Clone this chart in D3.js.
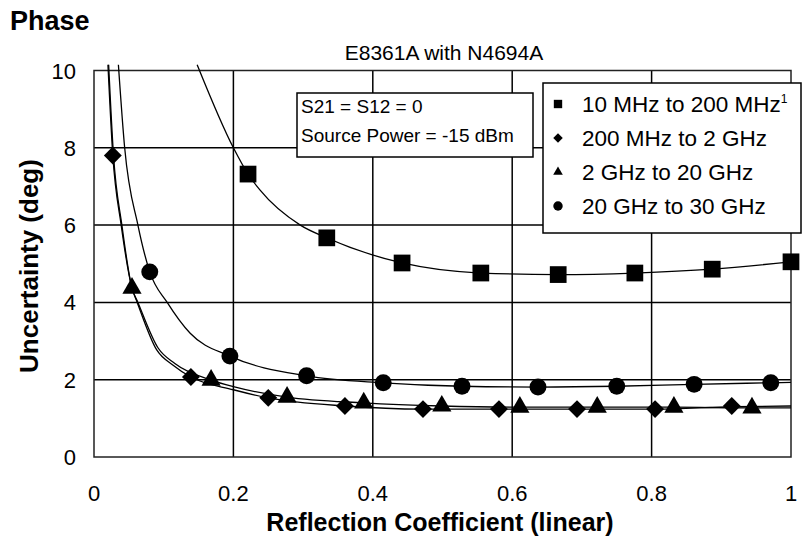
<!DOCTYPE html>
<html>
<head>
<meta charset="utf-8">
<script src="https://cdn.jsdelivr.net/npm/d3@7"></script>
<style>
  html, body { margin: 0; padding: 0; background: #fff; }
  svg { display: block; font-family: Arial, "Liberation Sans", sans-serif; }
</style>
</head>
<body>
<svg id="chart" width="806" height="549"></svg>
<script>
// ---------------- DATA ----------------
const seriesNames = ["10 MHz to 200 MHz", "200 MHz to 2 GHz", "2 GHz to 20 GHz", "20 GHz to 30 GHz"];
const xTicks = [0, 0.2, 0.4, 0.6, 0.8, 1];
const xTickLabels = ["0", "0.2", "0.4", "0.6", "0.8", "1"];
const yTicks = [0, 2, 4, 6, 8, 10];
const yTickLabels = ["0", "2", "4", "6", "8", "10"];

// marker points [reflection coefficient, uncertainty deg]
const squarePts  = [[0.221,7.32],[0.334,5.67],[0.442,5.02],[0.555,4.76],[0.666,4.72],[0.776,4.76],[0.887,4.86],[1.0,5.05]];
const diamondPts = [[0.027,7.8],[0.139,2.07],[0.250,1.53],[0.360,1.32],[0.472,1.24],[0.581,1.24],[0.693,1.24],[0.805,1.24],[0.915,1.32]];
const trianglePts= [[0.0545,4.37],[0.168,1.99],[0.277,1.55],[0.387,1.40],[0.499,1.32],[0.611,1.29],[0.722,1.29],[0.832,1.29],[0.944,1.27]];
const circlePts  = [[0.080,4.79],[0.195,2.61],[0.305,2.10],[0.415,1.92],[0.528,1.83],[0.637,1.81],[0.750,1.83],[0.861,1.88],[0.971,1.92]];

// fitted curve traces
const squareCurve  = [[0.148,10.15],[0.2,8.0],[0.221,7.32],[0.238,6.91],[0.296,6.0],[0.334,5.67],[0.442,5.02],[0.555,4.76],[0.666,4.72],[0.776,4.76],[0.887,4.86],[1.0,5.05]];
const diamondCurve = [[0.020,10.15],[0.027,7.8],[0.039,6.0],[0.0545,4.37],[0.062,4.0],[0.090,2.77],[0.113,2.38],[0.139,2.07],[0.2,1.74],[0.250,1.53],[0.360,1.32],[0.472,1.24],[0.581,1.24],[0.693,1.24],[0.805,1.24],[0.915,1.30],[1.0,1.32]];
const triangleCurve= [[0.021,10.15],[0.028,7.8],[0.040,6.0],[0.0545,4.37],[0.063,4.0],[0.092,2.82],[0.116,2.42],[0.168,1.99],[0.2,1.82],[0.277,1.55],[0.387,1.40],[0.499,1.32],[0.611,1.29],[0.722,1.29],[0.832,1.29],[0.944,1.27],[1.0,1.27]];
const circleCurve  = [[0.035,10.15],[0.044,8.0],[0.063,6.0],[0.080,4.79],[0.105,4.0],[0.138,3.2],[0.195,2.61],[0.305,2.10],[0.415,1.92],[0.528,1.83],[0.637,1.81],[0.750,1.83],[0.861,1.88],[0.971,1.92],[1.0,1.93]];

const noteLines = ["S21 = S12 = 0", "Source Power = -15 dBm"];

// ---------------- CHART ----------------
const svg = d3.select("#chart");
const x = d3.scaleLinear().domain([0, 1]).range([94, 791]);
const y = d3.scaleLinear().domain([0, 10]).range([457, 70.5]);

// gridlines
const g = svg.append("g");
g.selectAll("line.vx").data(xTicks.slice(1, -1)).enter().append("line")
  .attr("x1", d => x(d)).attr("x2", d => x(d)).attr("y1", y(0)).attr("y2", y(10))
  .attr("stroke", "#000").attr("stroke-width", 1.5);
g.selectAll("line.hy").data(yTicks.slice(1, -1)).enter().append("line")
  .attr("x1", x(0)).attr("x2", x(1)).attr("y1", d => y(d)).attr("y2", d => y(d))
  .attr("stroke", "#000").attr("stroke-width", 1.5);
g.append("rect").attr("x", x(0)).attr("y", y(10)).attr("width", x(1) - x(0)).attr("height", y(0) - y(10))
  .attr("fill", "none").attr("stroke", "#222").attr("stroke-width", 1.5);

// tick labels
svg.selectAll("text.xt").data(xTicks).enter().append("text")
  .attr("x", d => x(d)).attr("y", 501).attr("text-anchor", "middle")
  .attr("font-size", 22).text((d, i) => xTickLabels[i]);
svg.selectAll("text.yt").data(yTicks).enter().append("text")
  .attr("x", 76).attr("y", d => y(d) + 8).attr("text-anchor", "end")
  .attr("font-size", 22).text((d, i) => yTickLabels[i]);

// axis titles
svg.append("text").attr("x", 440).attr("y", 531).attr("text-anchor", "middle")
  .attr("font-size", 25).attr("font-weight", "bold").text("Reflection Coefficient (linear)");
svg.append("text").attr("transform", "translate(38,266) rotate(-90)").attr("text-anchor", "middle")
  .attr("font-size", 26).attr("font-weight", "bold").text("Uncertainty (deg)");
svg.append("text").attr("x", 10).attr("y", 30).attr("font-size", 27).attr("font-weight", "bold").text("Phase");
svg.append("text").attr("x", 444).attr("y", 60).attr("text-anchor", "middle").attr("font-size", 21)
  .text("E8361A with N4694A");

// curves
const line = d3.line().x(d => x(d[0])).y(d => y(d[1])).curve(d3.curveMonotoneX);
[squareCurve, diamondCurve, triangleCurve, circleCurve].forEach(c => {
  svg.append("path").attr("d", line(c)).attr("fill", "none").attr("stroke", "#000").attr("stroke-width", 1.3);
});

// markers
const symSquare = d3.symbol().type(d3.symbolSquare).size(280);
const symDiamond = d3.symbol().type(d3.symbolSquare).size(160);
const symTriangle = d3.symbol().type(d3.symbolTriangle).size(160);
const symCircle = d3.symbol().type(d3.symbolCircle).size(225);

function drawMarkers(pts, sym, rot) {
  svg.append("g").selectAll("path").data(pts).enter().append("path")
    .attr("d", sym)
    .attr("transform", d => `translate(${x(d[0])},${y(d[1])}) rotate(${rot})`)
    .attr("fill", "#000");
}
drawMarkers(squarePts, symSquare, 0);
drawMarkers(diamondPts, symDiamond, 45);
drawMarkers(trianglePts, symTriangle, 0);
drawMarkers(circlePts, symCircle, 0);

// note box
const note = svg.append("g");
note.append("rect").attr("x", 297).attr("y", 93).attr("width", 236).attr("height", 64)
  .attr("fill", "#fff").attr("stroke", "#000").attr("stroke-width", 1.5);
note.selectAll("text").data(noteLines).enter().append("text")
  .attr("x", 301).attr("y", (d, i) => 113 + i * 29).attr("font-size", 19).text(d => d);

// legend
const leg = svg.append("g");
leg.append("rect").attr("x", 543).attr("y", 83).attr("width", 258).attr("height", 150)
  .attr("fill", "#fff").attr("stroke", "#000").attr("stroke-width", 1.5);
const legSyms = [
  [d3.symbol().type(d3.symbolSquare).size(70), 0],
  [d3.symbol().type(d3.symbolSquare).size(45), 45],
  [d3.symbol().type(d3.symbolTriangle).size(40), 0],
  [d3.symbol().type(d3.symbolCircle).size(70), 0]
];
seriesNames.forEach((name, i) => {
  const cy = 104 + i * 34;
  leg.append("path").attr("d", legSyms[i][0]).attr("transform", `translate(558,${cy}) rotate(${legSyms[i][1]})`).attr("fill", "#000");
  const t = leg.append("text").attr("x", 582).attr("y", cy + 8).attr("font-size", 22.5).text(name);
  if (i === 0) t.append("tspan").attr("dy", -9).attr("font-size", 12).text("1");
});
</script>
</body>
</html>
